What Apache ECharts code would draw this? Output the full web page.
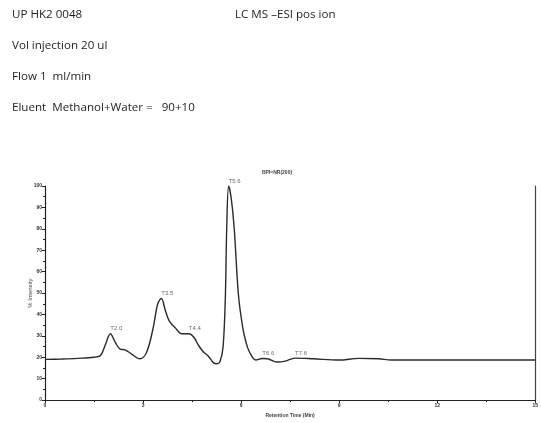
<!DOCTYPE html>
<html><head><meta charset="utf-8">
<script src="https://cdn.jsdelivr.net/npm/echarts@6/dist/echarts.min.js"></script>
<style>html,body{margin:0;padding:0;background:#fff}#c{width:541px;height:423px}</style>
</head><body><div id="c"></div>
<script>
const times = [0,0.5,1.0,1.5,1.7,1.85,2.0,2.15,2.3,2.45,2.65,2.9,3.1,3.3,3.45,3.56,3.68,3.8,4.0,4.17,4.4,4.55,4.7,4.85,5.0,5.15,5.25,5.35,5.45,5.52,5.56,5.62,5.7,5.79,5.92,6.05,6.15,6.25,6.45,6.65,6.8,7.1,7.35,7.65,8.2,9.0,9.6,10.2,10.6,12,13.5,15];
const intensity = [19.0,19.2,19.5,20.0,20.8,26,31,27,23.8,23.5,21.5,19.3,22,33,45,47.5,42,37,33.5,31,31,29.5,25.5,22.5,20.5,17.5,17,17.8,25,49,80,100,94,80,49,34,27,22.7,18.7,19.4,19.3,17.8,18.2,19.6,19.3,18.7,19.5,19.3,18.7,18.7,18.7,18.7];
const peakNames = ['T2.0','T3.5','T4.4','T5.6','T6.6','T7.6'];
const peakTimes = [2.0,3.56,4.4,5.62,6.65,7.65];
const peakVals = [31,47.5,31,100,19.4,19.6];
const headerLines = ['UP HK2 0048','Vol injection 20 ul','Flow 1  ml/min','Eluent  Methanol+Water =   90+10'];

const chart = echarts.init(document.getElementById('c'));
const hdrFont = '500 11.6px "Open Sans", "Liberation Sans", sans-serif';
const graphics = headerLines.map((t,i)=>({type:'text',left:12,top:9+i*31,style:{text:t,font:hdrFont,fill:'#1e1e1e'}}));
graphics.push({type:'text',left:235,top:9,style:{text:'LC MS \u2013ESI pos ion',font:hdrFont,fill:'#1e1e1e'}});
chart.setOption({
  animation:false,
  graphic:graphics,
  title:{text:'BPI=NR(200)',left:272,top:165,textAlign:'center',textStyle:{fontSize:5,fontWeight:'bold',color:'#444'}},
  grid:{left:45,right:4,top:186,bottom:14},
  xAxis:{type:'value',min:0,max:15,interval:3,
    name:'Retention Time (Min)',nameLocation:'middle',nameGap:10,
    nameTextStyle:{fontSize:5,fontWeight:'bold',color:'#444'},
    axisLine:{lineStyle:{color:'#222',width:1.2}},
    axisTick:{length:3,lineStyle:{color:'#222'}},
    minorTick:{show:true,splitNumber:2,length:2,lineStyle:{color:'#222'}},
    axisLabel:{fontSize:5,color:'#333',margin:3,fontWeight:'bold'},
    splitLine:{show:false}},
  yAxis:[{type:'value',min:0,max:100,interval:10,
    name:'% Intensity',nameLocation:'middle',nameGap:12,nameMoveOverlap:false,
    nameTextStyle:{fontSize:6,color:'#444'},
    axisLine:{show:true,lineStyle:{color:'#222',width:1.2}},
    axisTick:{show:true,length:3,lineStyle:{color:'#222'}},
    minorTick:{show:true,splitNumber:2,length:2,lineStyle:{color:'#222'}},
    axisLabel:{fontSize:5,color:'#333',margin:3,fontWeight:'bold'},
    splitLine:{show:false}},
    {type:'value',min:0,max:100,position:'right',
    axisLine:{show:true,lineStyle:{color:'#444',width:1.2}},
    axisTick:{show:false},axisLabel:{show:false},splitLine:{show:false}}],
  series:[
    {type:'line',data:times.map((t,i)=>[t,intensity[i]]),smooth:0.35,showSymbol:false,
     lineStyle:{color:'#2a2a2a',width:1.4}},
    {type:'scatter',symbolSize:0,data:peakTimes.map((t,i)=>({value:[t,peakVals[i]],name:peakNames[i]})),
     label:{show:true,position:'top',distance:2,offset:[6,0],formatter:p=>p.name,fontSize:6,color:'#444'}}
  ]
});
</script></body></html>
